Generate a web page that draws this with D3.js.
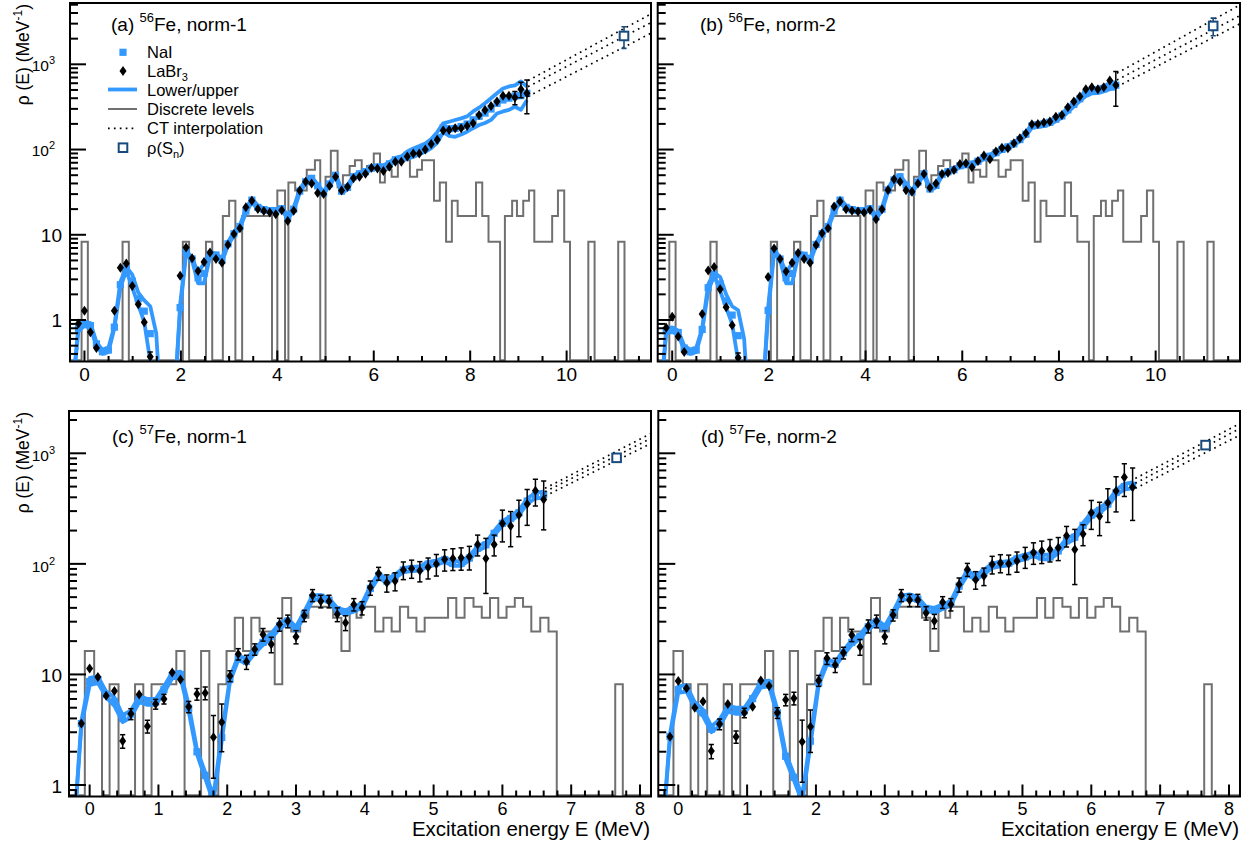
<!DOCTYPE html>
<html><head><meta charset="utf-8">
<script src="https://cdn.jsdelivr.net/npm/d3@7"></script>
<style>body{margin:0;background:#fff} svg text{font-family:"Liberation Sans",Arial,Helvetica,sans-serif;fill:#000}</style>
</head><body>
<svg id="chart" width="1253" height="848"></svg>
<script>
// ---------------- DATA ----------------
// 56Fe energy grid (MeV)
const E56 = [-0.248,-0.124,0,0.124,0.248,0.372,0.496,0.62,0.744,0.868,0.992,1.116,1.24,1.364,1.488,1.612,1.736,1.86,1.984,2.108,2.232,2.356,2.48,2.604,2.728,2.852,2.976,3.1,3.224,3.348,3.472,3.596,3.72,3.844,3.968,4.092,4.216,4.34,4.464,4.588,4.712,4.836,4.96,5.084,5.208,5.332,5.456,5.58,5.704,5.828,5.952,6.076,6.2,6.324,6.448,6.572,6.696,6.82,6.944,7.068,7.192,7.316,7.44,7.564,7.688,7.812,7.936,8.06,8.184,8.308,8.432,8.556,8.68,8.804,8.928,9.052,9.176];
// (a) 56Fe norm-1
const labr56n1 = [null,0.91,1.28,0.72,0.47,null,null,1.28,4.1,4.6,2.5,1.53,0.94,0.37,null,null,null,null,3.3,7.1,5.3,3.76,4.8,6.2,5.2,4.7,7.65,10.2,11.9,21,25,20,19,18.2,17.4,19.4,14.5,19.2,33,42,40,31,30,37.5,48,33,36.7,46,48,52,61,60,56,63,72,72,83,90,90,100,116,130,167,170,178,178,189,203,255,292,325,365,427,427,407,510,458];
const labrErr56n1 = [null,0.06,0.08,0.05,0.04,null,null,0.1,0.25,0.3,0.18,0.12,0.08,0.05,null,null,null,null,0.25,0.4,0.35,0.25,0.3,0.4,0.35,0.3,0.45,0.6,0.7,1.1,1.3,1.1,1.0,1.0,1.0,1.1,0.9,1.1,1.8,2.2,2.2,1.8,1.8,2.1,2.6,2.0,2.2,2.6,2.8,3.0,3.5,3.5,3.4,3.8,4.3,4.5,5.2,5.8,6,7,9,11,14,15,17,18,20,22,26,30,34,38,45,50,72,105,195];
const naiLo56n1 = [0.15,0.75,0.85,0.8,0.5,0.4,0.42,0.8,2.4,3.8,2.4,1.5,0.95,0.33,0.1,0.05,0.05,0.1,1.3,6.0,5.0,2.7,2.7,5.6,5.6,4.8,7.5,9.8,12,18,24,20,19,18.5,18.5,19.5,15.5,19,31,40,44,36,30,38,48,31,34,46,50,53,58,60,60,65,72,74,78,82,88,94,104,120,160,145,141,150,162,178,194,205,223,265,280,292,318,292,380];
const naiHi56n1 = [0.15,0.85,0.95,0.92,0.55,0.45,0.47,0.85,2.8,4.2,3.4,2.1,1.7,1.45,0.7,0.05,0.05,0.1,1.5,6.5,5.4,3.6,4.6,6.2,6.0,5.3,8.2,10.8,13,20,27,22,20.5,20,20,21,17,21,34,44,48,39,32,41,52,34,38,50,54,57,63,65,65,71,80,83,95,103,110,118,133,160,203,212,222,232,245,280,310,350,400,458,520,550,565,630,550];
// (b) 56Fe norm-2
const labr56n2 = [null,0.81,1.09,0.64,0.42,null,null,1.18,3.8,4.2,2.3,1.41,0.87,0.36,null,null,null,null,3.2,6.9,5.2,3.7,4.7,6.1,5.2,4.7,7.6,10.4,11.9,21.4,24.5,19.9,19.2,18.7,18.2,19.5,15.2,19.9,33.6,44.8,42,33.2,32,40,51.7,35.7,40,51.7,53.6,57.6,67.8,68.9,62,73.5,84.9,77,94.6,105,103.6,118.6,135.8,155,198,200,207,213,243,255,313,365,418,510,538,510,538,644,573];
const labrErr56n2 = [null,0.05,0.07,0.04,0.03,null,null,0.1,0.25,0.3,0.17,0.11,0.07,0.05,null,null,null,null,0.25,0.4,0.35,0.25,0.3,0.4,0.35,0.3,0.45,0.6,0.7,1.1,1.3,1.1,1.0,1.0,1.0,1.1,0.9,1.1,1.8,2.3,2.3,1.9,1.9,2.2,2.8,2.1,2.4,2.9,3.1,3.4,4.0,4.1,4.0,4.5,5.2,5.4,6.4,7.2,7.6,9,11,13,17,18,20,22,25,27,32,36,42,48,52,50,55,80,250];
const naiLo56n2 = [0.1,0.7,0.72,0.68,0.44,0.4,0.42,0.75,2.2,3.3,2.2,1.4,0.9,0.33,0.1,0.05,0.05,0.1,1.2,6.2,5.0,2.7,2.7,5.6,5.5,4.8,7.4,9.8,12,18,24,20,19,18.5,18.5,19.5,15.5,19,32,42,46,37,31,40,50,33,36,49,53,56,62,64,65,70,77,80,88,96,103,112,125,145,180,185,188,198,215,235,275,320,370,425,455,460,480,510,520];
const naiHi56n2 = [0.1,0.8,0.82,0.75,0.5,0.45,0.47,0.8,2.6,3.6,3.2,2.0,1.45,1.3,0.6,0.05,0.05,0.1,1.4,6.8,5.4,3.6,4.6,6.2,6.0,5.3,8.0,10.8,13,20,27,22,20.5,20,20,21,17,21,35,46,50,40,33,43,54,36,40,53,57,60,67,69,70,76,84,87,96,105,112,122,137,158,200,205,210,220,240,262,310,360,420,485,520,530,555,600,620];
// 56Fe discrete levels (step edges in MeV, density in MeV^-1)
const discE56 = [-0.3,-0.06,0.07,0.79,0.92,2.04,2.17,2.52,2.65,2.87,3.0,3.13,3.27,3.89,4.0,4.16,4.23,4.37,4.61,4.78,4.89,5.0,5.11,5.25,5.36,5.5,5.61,5.75,5.86,6.0,6.13,6.23,6.37,6.5,6.75,6.9,7.0,7.25,7.37,7.5,7.62,7.74,8.12,8.25,8.38,8.62,8.72,8.87,8.97,9.1,9.22,9.33,9.7,9.82,9.95,10.07,10.45,10.58,11.07,11.2,11.75];
const discRho56 = [0,8.3,0,8.3,0,8.3,0,8.3,0,16.6,25,0,16.6,0,33,0,41,33,58,75,0,48,97,36,50,64,75,58,64,90,41,58,48,75,48,58,75,25,41,8.3,25,16.6,41,16.6,8.3,0,16.6,25,16.6,25,33,8.3,16.6,33,8.3,0,8.3,0,8.3,0,0];
// CT interpolation (endpoints) and rho(Sn)
const ctE56 = [9.2, 11.75];
const ctUp56n1 = [643, 3900], ctMid56n1 = [547, 3090], ctLow56n1 = [420, 2317];
const ctUp56n2 = [787, 4990], ctMid56n2 = [656, 3740], ctLow56n2 = [547, 3000];
const sn56 = 11.19;
const rhoSn56n1 = [2150, 610], rhoSn56n2 = [2820, 660];

// 57Fe energy grid (MeV)
const E57 = [-0.24,-0.12,0,0.12,0.24,0.36,0.48,0.6,0.72,0.84,0.96,1.08,1.2,1.32,1.44,1.56,1.68,1.8,1.92,2.04,2.16,2.28,2.4,2.52,2.64,2.76,2.88,3.0,3.12,3.24,3.36,3.48,3.6,3.72,3.84,3.96,4.08,4.2,4.32,4.44,4.56,4.68,4.8,4.92,5.04,5.16,5.28,5.4,5.52,5.64,5.76,5.88,6.0,6.12,6.24,6.36,6.48,6.6];
// (c) 57Fe norm-1
const labr57n1 = [null,3.6,11.3,9.5,6.4,7.1,2.5,4.4,6.6,3.4,5.4,6.0,10.4,9.0,5.1,6.65,6.8,2.7,3.7,9.7,15.3,13,16.9,23,18.7,28.4,30.4,21.9,34,52,46,46,35,29.4,43,40,61,82,67.5,70,88,91,86.7,93,99.6,110,112,113.6,116,150,112,150,232,220,276,347,458,383];
const labrErr57n1 = [null,0.3,0.8,0.7,0.5,0.6,0.35,0.5,0.5,0.45,0.55,0.6,0.7,0.7,0.6,0.8,0.9,1.55,1.7,1.1,1.8,1.9,2.0,3.0,3.0,3.8,4.0,3.0,4.0,6.5,6,6,5,4.5,5.5,5.5,9,11,12,13,16,17,18,20,22,24,25,26,28,32,58,32,74,77,100,124,125,180];
const naiLo57n1 = [0.3,3.4,8.0,8.4,6.2,5.2,3.7,4.1,5.6,5.3,5.3,6.8,9.2,9.4,4.6,1.9,1.15,0.7,2.5,8.6,13.5,12.5,15.5,18.5,21,26,29,25,33,47,48,45,37,35,37,40,57,75,67,74,84,86,87,95,98,104,96,96,108,132,142,180,222,245,275,350,390,400];
const naiHi57n1 = [0.3,3.8,9.3,9.6,7.0,6.2,4.3,4.7,6.4,6.0,6.0,7.8,10.4,10.6,5.3,2.1,1.3,0.8,2.9,9.4,14.8,13.8,17,20.5,23.5,29,32,27,37,52,52,49,40,38,41,44,63,82,73,80,92,94,95,104,107,114,106,106,118,145,156,198,244,270,305,390,440,450];
// (d) 57Fe norm-2
const labr57n2 = [null,2.73,8.7,7.5,5.0,5.7,2.03,3.56,5.4,2.73,4.5,5.1,8.8,7.85,4.5,5.9,6.1,2.46,3.37,8.8,14,12.2,15.7,22.7,17.8,27.4,30.4,21.9,34.4,52,47,47,36,30.4,45,43,65,89,72,77.6,99,102,100,106,116,127,130.6,135,140,180,135,186,290,270,357,455,606,492];
const labrErr57n2 = [null,0.25,0.6,0.55,0.4,0.45,0.3,0.4,0.45,0.35,0.45,0.5,0.6,0.6,0.5,0.7,0.8,1.4,1.4,1.0,1.7,1.8,1.9,2.9,2.9,3.7,4.0,3.0,4.0,6.5,6,6,5,4.5,5.5,5.5,9.5,12,13,14,18,19,20,22,25,28,30,31,33,38,70,40,85,90,120,160,200,245];
const naiLo57n2 = [0.3,2.6,6.8,7.0,5.0,4.2,3.0,3.4,4.6,4.4,4.4,5.7,7.6,7.8,4.2,1.7,1.1,0.7,2.3,8.0,12.3,11.8,15,18.5,21,25.5,28.5,25,33,47,48,46,38,36,39,42,60,79,72,80,92,95,97,106,110,117,110,110,125,154,166,212,262,290,330,420,470,485];
const naiHi57n2 = [0.3,2.9,7.8,8.0,5.6,4.8,3.4,3.9,5.2,5.0,5.0,6.4,8.6,8.8,4.8,1.95,1.25,0.8,2.7,8.8,13.6,13,16.5,20.5,23,28.5,31.5,27.5,37,52,53,50,41,40,43,46,66,87,79,88,101,104,106,116,121,128,121,121,137,170,183,234,290,320,365,465,530,545];
// 57Fe discrete levels
const discE57 = [-0.3,-0.07,0.066,0.18,0.29,0.42,0.66,0.78,0.90,1.26,1.38,1.62,1.74,1.87,1.99,2.11,2.23,2.35,2.47,2.69,2.8,2.93,3.06,3.18,3.54,3.66,3.78,3.88,3.95,4.15,4.27,4.39,4.51,4.63,4.75,4.87,5.21,5.33,5.45,5.58,5.70,5.82,5.94,6.06,6.18,6.30,6.42,6.55,6.67,6.79,7.64,7.75,8.16];
const discRho57 = [0,16.3,8.15,0,8.15,0,8.15,0,8.15,16.3,0,16.3,0,8.15,16.3,32.6,16.3,32.6,24.5,8.15,49,24.5,32.6,41,32.6,16.3,41,32.6,41,24.5,32.6,24.5,41,32.6,24.5,32.6,49,32.6,49,41,32.6,49,32.6,41,49,41,24.5,32.6,24.5,0,8.15,0,0];
const ctE57n1 = [6.62, 8.16], ctE57n2 = [6.64, 8.16];
const ctUp57n1 = [482, 1513], ctMid57n1 = [449, 1365], ctLow57n1 = [410, 1230];
const ctUp57n2 = [593, 1862], ctMid57n2 = [535, 1680], ctLow57n2 = [482, 1462];
const sn57 = 7.66;
const rhoSn57n1 = [910, 40], rhoSn57n2 = [1186, 50];

// tick labels
const xTicks56 = [0, 2, 4, 6, 8, 10];
const xTicks57 = [0, 1, 2, 3, 4, 5, 6, 7, 8];
const yTicks = [1, 10, 100, 1000];
const legendLabels = ["NaI", "LaBr3", "Lower/upper", "Discrete levels", "CT interpolation", "ρ(Sn)"];

// ---------------- DRAWING ----------------
const svg = d3.select('#chart');
const BLUE = '#3399ff', GRAY = '#707070', SNC = '#184a7e';

const panels = [
  {id:'a', xr:[70,651], yr:[3,361.5], xd:[-0.3,11.75], yd:[0.326,5240], top:true, ylab:true, xtitle:false,
   title:['(a) ','56','Fe, norm-1'], tx:111, ty:31,
   D:{E:E56, labr:labr56n1, err:labrErr56n1, lo:naiLo56n1, hi:naiHi56n1, discE:discE56, discRho:discRho56,
      ctE:ctE56, ct:[ctUp56n1, ctMid56n1, ctLow56n1], sn:sn56, rhoSn:rhoSn56n1}},
  {id:'b', xr:[657.7,1240], yr:[3,361.5], xd:[-0.3,11.745], yd:[0.326,5240], top:true, ylab:false, xtitle:false,
   title:['(b) ','56','Fe, norm-2'], tx:700, ty:31,
   D:{E:E56, labr:labr56n2, err:labrErr56n2, lo:naiLo56n2, hi:naiHi56n2, discE:discE56, discRho:discRho56,
      ctE:ctE56, ct:[ctUp56n2, ctMid56n2, ctLow56n2], sn:sn56, rhoSn:rhoSn56n2}},
  {id:'c', xr:[69,651], yr:[411,796.5], xd:[-0.3,8.16], yd:[0.787,2413], top:false, ylab:true, xtitle:true,
   title:['(c) ','57','Fe, norm-1'], tx:112, ty:443,
   D:{E:E57, labr:labr57n1, err:labrErr57n1, lo:naiLo57n1, hi:naiHi57n1, discE:discE57, discRho:discRho57,
      ctE:ctE57n1, ct:[ctUp57n1, ctMid57n1, ctLow57n1], sn:sn57, rhoSn:rhoSn57n1}},
  {id:'d', xr:[658.3,1240], yr:[411,796.5], xd:[-0.29,8.16], yd:[0.787,2413], top:false, ylab:false, xtitle:true,
   title:['(d) ','57','Fe, norm-2'], tx:701, ty:443,
   D:{E:E57, labr:labr57n2, err:labrErr57n2, lo:naiLo57n2, hi:naiHi57n2, discE:discE57, discRho:discRho57,
      ctE:ctE57n2, ct:[ctUp57n2, ctMid57n2, ctLow57n2], sn:sn57, rhoSn:rhoSn57n2}}
];

function diamond(cx, cy) {
  return `M${cx},${cy-5}L${cx+3.5},${cy}L${cx},${cy+5}L${cx-3.5},${cy}Z`;
}

function drawPanel(L) {
  const D = L.D;
  const x = d3.scaleLinear().domain(L.xd).range(L.xr);
  const y = d3.scaleLog().domain(L.yd).range([L.yr[1], L.yr[0]]);
  const clipId = 'clip-' + L.id;
  svg.append('clipPath').attr('id', clipId).append('rect')
    .attr('x', L.xr[0]).attr('y', L.yr[0])
    .attr('width', L.xr[1]-L.xr[0]).attr('height', L.yr[1]-L.yr[0]);
  const g = svg.append('g').attr('clip-path', `url(#${clipId})`);
  const yv = v => v > 0 ? y(v) : L.yr[1] - 1.2;

  // discrete levels histogram
  const hist = D.discE.map((e, i) => [e, D.discRho[i]]);
  g.append('path').datum(hist)
    .attr('d', d3.line().x(d => x(d[0])).y(d => yv(d[1])).curve(d3.curveStepAfter))
    .attr('fill', 'none').attr('stroke', GRAY).attr('stroke-width', 2);

  // lower / upper lines
  [D.lo, D.hi].forEach(arr => {
    const pts = D.E.map((e, i) => [e, arr[i]]);
    g.append('path').datum(pts)
      .attr('d', d3.line().x(d => x(d[0])).y(d => y(d[1])))
      .attr('fill', 'none').attr('stroke', BLUE).attr('stroke-width', 3.8)
      .attr('stroke-linejoin', 'round');
  });
  // NaI squares
  D.E.forEach((e, i) => {
    const v = Math.sqrt(D.lo[i] * D.hi[i]);
    g.append('rect').attr('x', x(e) - 3.6).attr('y', y(v) - 3.6)
      .attr('width', 7.2).attr('height', 7.2).attr('fill', BLUE);
  });

  // CT interpolation
  D.ct.forEach(arr => {
    const pts = D.ctE.map((e, i) => [e, arr[i]]);
    g.append('path').datum(pts)
      .attr('d', d3.line().x(d => x(d[0])).y(d => y(d[1])))
      .attr('fill', 'none').attr('stroke', '#000').attr('stroke-width', 1.7)
      .attr('stroke-dasharray', '1.7,4.2');
  });

  // LaBr3 with error bars
  D.E.forEach((e, i) => {
    const v = D.labr[i];
    if (v == null) return;
    const er = D.err[i];
    const cx = x(e), cy = y(v);
    const yt = y(v + er), yb = y(Math.max(v - er, 1e-3));
    if (cy - yt > 5 || yb - cy > 5) {
      g.append('line').attr('x1', cx).attr('x2', cx).attr('y1', yt).attr('y2', yb)
        .attr('stroke', '#000').attr('stroke-width', 1.5);
      [yt, yb].forEach(yy => g.append('line').attr('x1', cx - 2.6).attr('x2', cx + 2.6)
        .attr('y1', yy).attr('y2', yy).attr('stroke', '#000').attr('stroke-width', 1.5));
    }
    g.append('path').attr('d', diamond(cx, cy)).attr('fill', '#000');
  });

  // rho(Sn)
  {
    const cx = x(D.sn), v = D.rhoSn[0], er = D.rhoSn[1];
    const cy = y(v), yt = y(v + er), yb = y(v - er);
    g.append('line').attr('x1', cx).attr('x2', cx).attr('y1', yt).attr('y2', yb)
      .attr('stroke', SNC).attr('stroke-width', 1.6);
    [yt, yb].forEach(yy => g.append('line').attr('x1', cx - 2.6).attr('x2', cx + 2.6)
      .attr('y1', yy).attr('y2', yy).attr('stroke', SNC).attr('stroke-width', 1.6));
    g.append('rect').attr('x', cx - 4.3).attr('y', cy - 4.3).attr('width', 8.6).attr('height', 8.6)
      .attr('fill', '#fff').attr('stroke', SNC).attr('stroke-width', 2);
  }

  // frame
  svg.append('rect').attr('x', L.xr[0]).attr('y', L.yr[0])
    .attr('width', L.xr[1]-L.xr[0]).attr('height', L.yr[1]-L.yr[0])
    .attr('fill', 'none').attr('stroke', '#000').attr('stroke-width', 2);

  // x ticks
  const ax = svg.append('g');
  const xMajor = L.top ? xTicks56 : xTicks57;
  const minorStep = L.top ? 0.5 : 0.2;
  const majLen = L.top ? 11 : 12, minLen = L.top ? 5.5 : 6;
  const nMin = Math.ceil(L.xd[0] / minorStep), nMax = Math.floor(L.xd[1] / minorStep);
  for (let k = nMin; k <= nMax; k++) {
    const v = k * minorStep;
    const isMaj = xMajor.some(t => Math.abs(t - v) < 1e-6);
    const px = x(v);
    if (px <= L.xr[0] + 1 || px >= L.xr[1] - 1) continue;
    ax.append('line').attr('x1', px).attr('x2', px).attr('y1', L.yr[1])
      .attr('y2', L.yr[1] - (isMaj ? majLen : minLen)).attr('stroke', '#000').attr('stroke-width', 2);
  }
  const xfs = L.top ? 19 : 18;
  xMajor.forEach(t => {
    ax.append('text').attr('x', x(t)).attr('y', L.yr[1] + (L.top ? 19 : 18.5))
      .attr('text-anchor', 'middle').attr('font-size', xfs).text(t);
  });

  // y ticks
  const ymajLen = L.top ? 16 : 17, yminLen = 8;
  const d0 = Math.floor(Math.log10(L.yd[0])), d1 = Math.ceil(Math.log10(L.yd[1]));
  for (let dd = d0; dd <= d1; dd++) {
    for (let m = 1; m <= 9; m++) {
      const v = m * Math.pow(10, dd);
      if (v < L.yd[0] || v > L.yd[1]) continue;
      const py = y(v);
      ax.append('line').attr('x1', L.xr[0]).attr('x2', L.xr[0] + (m === 1 ? ymajLen : yminLen))
        .attr('y1', py).attr('y2', py).attr('stroke', '#000').attr('stroke-width', 2);
    }
  }
  if (L.ylab) {
    yTicks.forEach(t => {
      const exp = Math.round(Math.log10(t));
      if (exp <= 1) {
        ax.append('text').attr('x', 62).attr('y', y(t) + (L.top ? 7 : 8)).attr('text-anchor', 'end')
          .attr('font-size', 19).text(t);
      } else {
        const tx = ax.append('text').attr('x', 55).attr('y', y(t) + (L.top ? 6.5 : 8))
          .attr('text-anchor', 'end').attr('font-size', 15.5);
        tx.append('tspan').text('10');
        tx.append('tspan').attr('dy', -7).attr('font-size', 11).text(exp);
      }
    });
    // y axis title
    const yt = svg.append('text').attr('transform', `translate(29,${L.yr[0] + 1}) rotate(-90)`)
      .attr('text-anchor', 'end').attr('font-size', 17.5);
    yt.append('tspan').text('ρ (E) (MeV');
    yt.append('tspan').attr('dy', -7).attr('font-size', 12).text('-1');
    yt.append('tspan').attr('dy', 7).text(')');
  }
  if (L.xtitle) {
    svg.append('text').attr('x', L.xr[1] - 1).attr('y', 836).attr('text-anchor', 'end')
      .attr('font-size', 20.5).text('Excitation energy E (MeV)');
  }
  // panel title
  const tt = svg.append('text').attr('x', L.tx).attr('y', L.ty).attr('font-size', 19);
  tt.append('tspan').text(L.title[0]);
  tt.append('tspan').attr('dy', -9).attr('font-size', 13).text(L.title[1]);
  tt.append('tspan').attr('dy', 9).text(L.title[2]);
}

panels.forEach(drawPanel);

// legend (panel a)
{
  const lg = svg.append('g');
  const rows = [52.3, 71, 89.5, 109, 128.3, 147.7];
  const sx = 123, tx = 147, fs = 16.5;
  lg.append('rect').attr('x', sx - 3.6).attr('y', rows[0] - 3.6).attr('width', 7.2).attr('height', 7.2).attr('fill', BLUE);
  lg.append('path').attr('d', diamond(sx, rows[1])).attr('fill', '#000');
  lg.append('line').attr('x1', 108).attr('x2', 137).attr('y1', rows[2]).attr('y2', rows[2])
    .attr('stroke', BLUE).attr('stroke-width', 3.8);
  lg.append('line').attr('x1', 108).attr('x2', 137).attr('y1', rows[3]).attr('y2', rows[3])
    .attr('stroke', GRAY).attr('stroke-width', 2);
  lg.append('line').attr('x1', 108).attr('x2', 137).attr('y1', rows[4]).attr('y2', rows[4])
    .attr('stroke', '#000').attr('stroke-width', 1.7).attr('stroke-dasharray', '1.7,4.2');
  lg.append('rect').attr('x', sx - 4.3).attr('y', rows[5] - 4.3).attr('width', 8.6).attr('height', 8.6)
    .attr('fill', '#fff').attr('stroke', SNC).attr('stroke-width', 2);
  const T = (i) => lg.append('text').attr('x', tx).attr('y', rows[i] + 6).attr('font-size', fs);
  T(0).text(legendLabels[0]);
  { const t = T(1); t.append('tspan').text('LaBr'); t.append('tspan').attr('dy', 4).attr('font-size', 11).text('3'); }
  T(2).text(legendLabels[2]);
  T(3).text(legendLabels[3]);
  T(4).text(legendLabels[4]);
  { const t = T(5); t.append('tspan').text('ρ(S'); t.append('tspan').attr('dy', 4).attr('font-size', 11).text('n');
    t.append('tspan').attr('dy', -4).text(')'); }
}
</script>
</body></html>
